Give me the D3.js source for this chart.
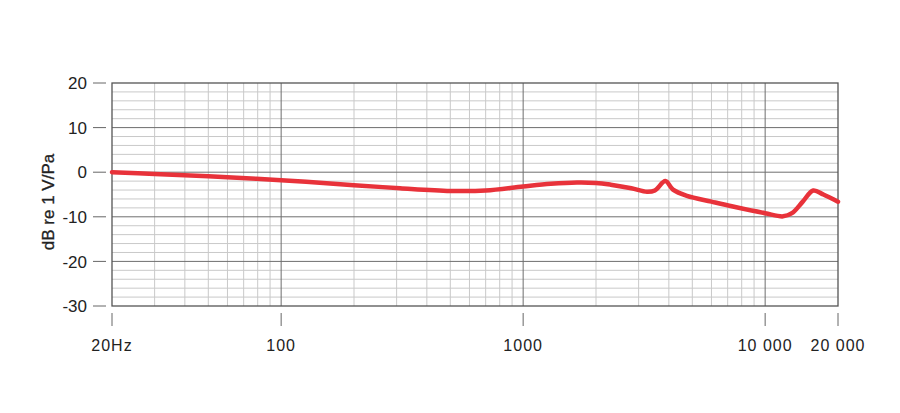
<!DOCTYPE html>
<html><head><meta charset="utf-8">
<script src="https://cdn.jsdelivr.net/npm/d3@7"></script>
<style>body{margin:0;background:#fff}svg{display:block}</style>
</head><body>
<svg id="c" width="900" height="413"></svg>
<script>
const freqs = [20, 30, 50, 100, 200, 310, 500, 700, 1000, 1300, 1670, 2000, 2300, 2800, 3250, 3500, 3870, 4160, 4750, 6000, 7360, 10000, 11860, 12900, 14300, 15800, 17400, 20000];
const dB    = [0, -0.4, -0.9, -1.8, -2.9, -3.6, -4.2, -4.1, -3.2, -2.6, -2.3, -2.4, -2.8, -3.6, -4.4, -4.1, -2.0, -3.9, -5.3, -6.6, -7.7, -9.2, -9.9, -9.2, -6.6, -4.1, -5.0, -6.6];
const xTickVals = [20, 100, 1000, 10000, 20000];
const xTickLabels = ["20Hz", "100", "1000", "10 000", "20 000"];
const yTickVals = [20, 10, 0, -10, -20, -30];
const yTitle = "dB re 1 V/Pa";

const svg = d3.select("#c");
const L = 112, R = 838, T = 83, B = 306;
const x = d3.scaleLog().domain([20, 20000]).range([L, R]);
const y = d3.scaleLinear().domain([-30, 20]).range([B, T]);
const FONT = "Liberation Sans, Arial, sans-serif";

// minor vertical grid
const minorX = [];
for (let d = 10; d <= 10000; d *= 10) for (let k = 2; k < 10; k++) { const f = d * k; if (f > 20 && f < 20000) minorX.push(f); }
svg.append("g").selectAll("line").data(minorX).join("line")
  .attr("x1", d => x(d)).attr("x2", d => x(d)).attr("y1", T).attr("y2", B)
  .attr("stroke", "#c9c9c9").attr("stroke-width", 1);
// minor horizontal grid
const minorY = d3.range(-30, 21, 2).filter(v => v % 10 !== 0);
svg.append("g").selectAll("line").data(minorY).join("line")
  .attr("x1", L).attr("x2", R).attr("y1", d => y(d)).attr("y2", d => y(d))
  .attr("stroke", "#c9c9c9").attr("stroke-width", 1);
// major grid
svg.append("g").selectAll("line").data([100, 1000, 10000]).join("line")
  .attr("x1", d => x(d)).attr("x2", d => x(d)).attr("y1", T).attr("y2", B)
  .attr("stroke", "#6e6e6e").attr("stroke-width", 1);
svg.append("g").selectAll("line").data([10, 0, -10, -20]).join("line")
  .attr("x1", L).attr("x2", R).attr("y1", d => y(d)).attr("y2", d => y(d))
  .attr("stroke", "#6e6e6e").attr("stroke-width", 1);
// frame
svg.append("rect").attr("x", L).attr("y", T).attr("width", R - L).attr("height", B - T)
  .attr("fill", "none").attr("stroke", "#555").attr("stroke-width", 1.3);

// y ticks
const yg = svg.append("g");
yg.selectAll("line").data(yTickVals).join("line")
  .attr("x1", 93).attr("x2", 106).attr("y1", d => y(d)).attr("y2", d => y(d))
  .attr("stroke", "#666").attr("stroke-width", 1);
yg.selectAll("text").data(yTickVals).join("text")
  .attr("x", 87).attr("y", d => y(d)).attr("dy", "0.36em").attr("text-anchor", "end")
  .attr("font-family", FONT).attr("font-size", 17).attr("fill", "#222")
  .text(d => d);
// x ticks
const xg = svg.append("g");
xg.selectAll("line").data(xTickVals).join("line")
  .attr("x1", d => x(d)).attr("x2", d => x(d)).attr("y1", 313).attr("y2", 326)
  .attr("stroke", "#666").attr("stroke-width", 1);
xg.selectAll("text").data(xTickVals).join("text")
  .attr("x", d => x(d)).attr("y", 351).attr("text-anchor", "middle")
  .attr("font-family", FONT).attr("font-size", 16).attr("fill", "#222")
  .attr("letter-spacing", "1px")
  .text((d, i) => xTickLabels[i]);
// y title
svg.append("text").attr("transform", `translate(54,202) rotate(-90)`)
  .attr("text-anchor", "middle").attr("font-family", FONT)
  .attr("font-size", 17).attr("fill", "#222").attr("stroke", "#222").attr("stroke-width", 0.3)
  .text(yTitle);

// curve
const line = d3.line().x((d, i) => x(freqs[i])).y(d => y(d)).curve(d3.curveCatmullRom.alpha(0.5));
svg.append("path").datum(dB).attr("d", line)
  .attr("fill", "none").attr("stroke", "#e8323a").attr("stroke-width", 4.5)
  .attr("stroke-linecap", "round").attr("stroke-linejoin", "round");
</script>
</body></html>
